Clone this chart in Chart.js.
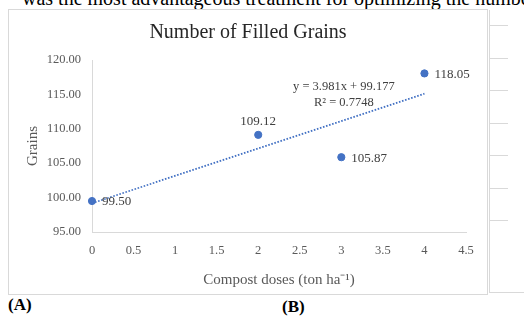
<!DOCTYPE html>
<html>
<head>
<meta charset="utf-8">
<script src="https://cdn.jsdelivr.net/npm/chart.js@4.4.1/dist/chart.umd.min.js"></script>
<style>
  body { margin: 0; width: 524px; height: 320px; overflow: hidden; background: #fff; position: relative; font-family: "Liberation Serif", serif; }
  #frame { position: absolute; left: 8px; top: 9px; width: 480px; height: 286px; border: 1px solid #d9d9d9; box-sizing: border-box; }
  #chartBox { position: absolute; left: 0; top: 0; width: 524px; height: 320px; }
  .paper { position: absolute; color: #000; white-space: nowrap; }
  .hline { position: absolute; height: 1px; background: #d9d9d9; }
  .vline { position: absolute; width: 1px; background: #d9d9d9; }
</style>
</head>
<body>
<div class="paper" style="left:22px; top:-12px; font-size:20px; line-height:20px;">was the most advantageous treatment for optimizing the number</div>
<div id="frame"></div>
<!-- bits of the neighbouring chart -->
<div class="vline" style="left:489px; top:10px; height:283px;"></div>
<div class="hline" style="left:490px; top:25px; width:18px;"></div>
<div class="hline" style="left:490px; top:58px; width:18px;"></div>
<div class="hline" style="left:490px; top:90px; width:18px;"></div>
<div class="hline" style="left:490px; top:123px; width:18px;"></div>
<div class="hline" style="left:490px; top:155px; width:18px;"></div>
<div class="hline" style="left:490px; top:188px; width:18px;"></div>
<div class="hline" style="left:490px; top:220px; width:18px;"></div>
<div class="hline" style="left:490px; top:292px; width:34px;"></div>
<div class="paper" style="left:8px; top:295px; font-size:17px; font-weight:bold;">(A)</div>
<div class="paper" style="left:282px; top:297px; font-size:17px; font-weight:bold;">(B)</div>
<div id="chartBox"><canvas id="myChart" width="524" height="320"></canvas></div>

<script>
// data
const doses = [0, 2, 3, 4];
const grains = [99.50, 109.12, 105.87, 118.05];
const labelSide = ['right', 'top', 'right', 'right'];

// Excel linear trendline shown on the chart
const slope = 3.981;
const intercept = 99.177;
const trendX = [0, 4];
const equationLines = ['y = 3.981x + 99.177', 'R\u00b2 = 0.7748'];
const equationAt = { x: 3.03, y: 116.1 };

const chartTitle = 'Number of Filled Grains';

const blue = '#4472C4';
const serif = '"Liberation Serif", serif';

const pointLabels = {
    id: 'pointLabels',
    afterDatasetsDraw(chart) {
        const ctx = chart.ctx;
        const meta = chart.getDatasetMeta(1);
        ctx.save();
        ctx.font = '13px ' + serif;
        ctx.fillStyle = '#404040';
        ctx.textBaseline = 'middle';
        meta.data.forEach((pt, i) => {
            const txt = grains[i].toFixed(2);
            if (labelSide[i] === 'top') {
                ctx.textAlign = 'center';
                ctx.fillText(txt, pt.x, pt.y - 13);
            } else {
                ctx.textAlign = 'left';
                ctx.fillText(txt, pt.x + 10, pt.y + 1);
            }
        });
        // trendline equation
        const ex = chart.scales.x.getPixelForValue(equationAt.x);
        const ey = chart.scales.y.getPixelForValue(equationAt.y);
        ctx.font = '12.5px ' + serif;
        ctx.textAlign = 'center';
        ctx.fillText(equationLines[0], ex, ey);
        ctx.fillText(equationLines[1], ex, ey + 16);
        // chart title, centred in the frame
        ctx.font = '20px ' + serif;
        ctx.fillStyle = '#262626';
        ctx.fillText(chartTitle, 248, 33);
        ctx.restore();
    }
};

const config = {
    type: 'scatter',
    data: {
        datasets: [
            {
                type: 'line',
                data: trendX.map(x => ({ x: x, y: slope * x + intercept })),
                borderColor: blue,
                borderWidth: 1.8,
                borderDash: [1.6, 1.6],
                pointRadius: 0,
                fill: false,
                clip: false
            },
            {
                data: doses.map((d, i) => ({ x: d, y: grains[i] })),
                backgroundColor: blue,
                borderColor: blue,
                pointRadius: 3.6,
                clip: false
            }
        ]
    },
    options: {
        responsive: false,
        animation: false,
        layout: { padding: { left: 18, right: 58, top: 60, bottom: 26 } },
        plugins: {
            legend: { display: false },
            tooltip: { enabled: false },
            title: { display: false }
        },
        scales: {
            x: {
                type: 'linear',
                min: 0,
                max: 4.5,
                ticks: {
                    stepSize: 0.5,
                    color: '#595959',
                    font: { family: serif, size: 12.5 },
                    padding: 11,
                    callback: v => String(v)
                },
                grid: { display: false, drawTicks: false },
                border: { color: '#d9d9d9' },
                title: {
                    display: true,
                    text: 'Compost doses (ton ha\u207b\u00b9)',
                    color: '#595959',
                    font: { family: serif, size: 15 },
                    padding: { top: 0, bottom: 5 }
                },
                afterFit(scale) { scale.height = 62; }
            },
            y: {
                min: 95,
                max: 120,
                ticks: {
                    stepSize: 5,
                    color: '#595959',
                    font: { family: serif, size: 12.5 },
                    padding: 11,
                    callback: v => v.toFixed(2)
                },
                grid: { display: false, drawTicks: false },
                border: { color: '#d9d9d9' },
                title: {
                    display: true,
                    text: 'Grains',
                    color: '#595959',
                    font: { family: serif, size: 15 },
                    padding: { top: 6, bottom: 0 }
                },
                afterFit(scale) { scale.width = 74; }
            }
        }
    },
    plugins: [pointLabels]
};

const myChart = new Chart(document.getElementById('myChart'), config);
</script>
</body>
</html>
